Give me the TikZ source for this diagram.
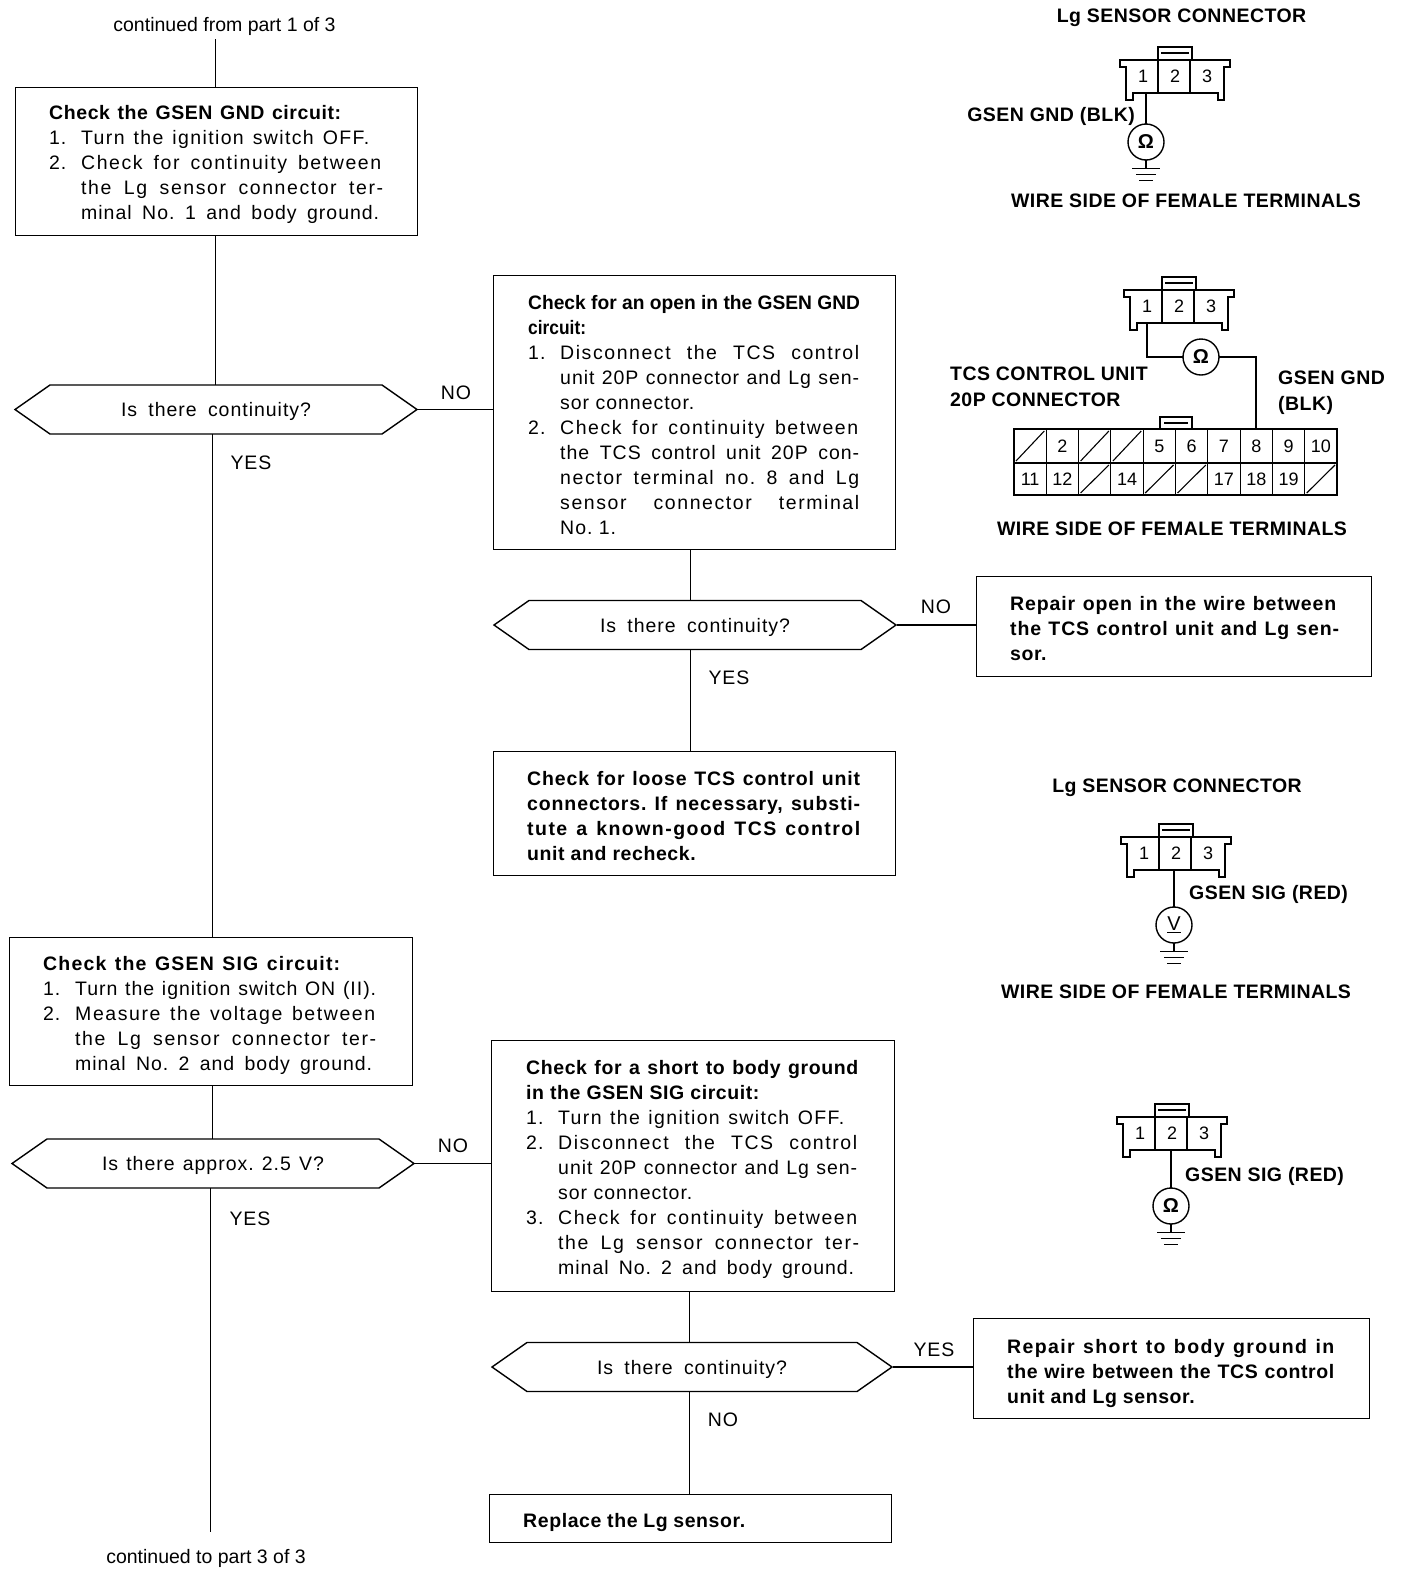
\documentclass[tikz,border=0pt]{standalone}
\usepackage{fontspec}
\setmainfont{Liberation Sans}
\newfontfamily\bodyf[LetterSpace=5]{Liberation Sans}
\newfontfamily\bb[LetterSpace=3]{Liberation Sans}
\newfontfamily\capf[LetterSpace=2.3]{Liberation Sans}
\usetikzlibrary{shapes.symbols,calc}
\AtBeginDocument{\frenchspacing}
\newcommand{\nm}[2]{\makebox[32pt][l]{#1}#2}
\newcommand{\ind}[1]{\hspace*{32pt}#1}
\newcommand{\wl}[2]{\makebox[#1pt][s]{#2}}
\newcommand{\wlx}[3]{{\addfontfeature{LetterSpace=#2}\makebox[#1pt][s]{#3}}}
\newcommand{\hd}[1]{{\bb\bfseries #1}}
\tikzset{
  ln/.style={line width=1.4pt,line cap=rect},
  boxn/.style={draw,line width=1.4pt,rectangle,inner sep=0pt,anchor=north west},
  txt/.style={anchor=west,align=left,inner sep=0pt,font=\bodyf\fontsize{19.5}{25}\selectfont},
  btxt/.style={anchor=west,align=left,inner sep=0pt,font=\bb\bfseries\fontsize{19.5}{25}\selectfont},
  hex/.style={draw,line width=1.4pt,signal,signal to=east and west,signal pointer angle=70,inner sep=0pt,minimum height=49pt,font=\bodyf\fontsize{19.5}{25}\selectfont},
  lab/.style={inner sep=0pt,font=\bodyf\fontsize{19.5}{25}\selectfont},
  plainlab/.style={inner sep=0pt,font=\fontsize{19.5}{25}\selectfont},
  captxt/.style={inner sep=0pt,font=\capf\bfseries\fontsize{19.5}{26}\selectfont,align=left},
  num/.style={inner sep=0pt,font=\fontsize{18}{20}\selectfont},
  meter/.style={draw,circle,line width=1.4pt,minimum size=36pt,inner sep=0pt,font=\bfseries\fontsize{20}{20}\selectfont},
  thinln/.style={line width=1.1pt}
}
\newcommand{\lgconn}[3]{%
  \begin{scope}[shift={(#2,#3)}]
    \draw[ln] (0,13) -- (0,0) -- (34,0) -- (34,13);
    \draw[thinln] (3,6) -- (31,6);
    \draw[ln] (-32,20) -- (-38,20) -- (-38,13) -- (72,13) -- (72,20) -- (66,20) -- (66,53) -- (60,53) -- (60,46) -- (-25,46) -- (-25,53) -- (-32,53) -- cycle;
    \draw[thinln] (0,13) -- (0,46) (32,13) -- (32,46);
    \node[num] (#1a) at (-15,29) {1};
    \node[num] (#1b) at (17,29) {2};
    \node[num] (#1c) at (49,29) {3};
    \coordinate (#1p) at (-13,46);
    \coordinate (#1q) at (17,46);
  \end{scope}}
\newcommand{\gnd}[1]{%
  \draw[ln] (#1.south) -- ++(0,8) coordinate (#1g);
  \draw[ln] ($(#1g)+(-13,0)$) -- ($(#1g)+(13,0)$);
  \draw[ln] ($(#1g)+(-9,6)$) -- ($(#1g)+(9,6)$);
  \draw[ln] ($(#1g)+(-6,12)$) -- ($(#1g)+(6,12)$);}
\begin{document}
\begin{tikzpicture}[x=1pt,y=-1pt]
\useasboundingbox (0,0) rectangle (1408,1572);

% free ends and trunks
\coordinate (top) at (215.5,40);
\coordinate (trunk) at (212.5,0);
\coordinate (bottomend) at (210.5,1531);

\node[plainlab] (ctop) at (224.5,26) {continued from part 1 of 3};
\node[plainlab] (cbot) at (206,1558) {continued to part 3 of 3};

% boxes
\node[boxn,minimum width=402pt,minimum height=148pt] (b1) at (15,87) {};
\node[txt] (b1t) at ([xshift=34pt,yshift=-3pt]b1.west) {\hd{\wl{292}{Check the GSEN GND circuit:}}\\\nm{1.}{\wlx{288}{7}{Turn the ignition switch OFF.}}\\\nm{2.}{\wlx{300}{8}{Check for continuity between}}\\\ind{\wlx{302}{8}{the Lg sensor connector ter-}}\\\ind{\wl{298}{minal No. 1 and body ground.}}};

\node[boxn,minimum width=402pt,minimum height=274pt] (b2) at (493,275) {};
\node[txt] (b2t) at ([xshift=35pt,yshift=-2.5pt]b2.west) {{\rmfamily\bfseries\scalebox{.985}[1]{Check for an open in the GSEN GND}}\\{\rmfamily\bfseries\scalebox{.89}[1]{circuit:}}\\\nm{1.}{\wlx{299}{8}{Disconnect the TCS control}}\\\ind{\wl{299}{unit 20P connector and Lg sen-}}\\\ind{sor connector.}\\\nm{2.}{\wlx{298}{8}{Check for continuity between}}\\\ind{\wl{299}{the TCS control unit 20P con-}}\\\ind{\wlx{299}{8}{nector terminal no. 8 and Lg}}\\\ind{\wlx{299}{8}{sensor connector terminal}}\\\ind{No. 1.}};

\node[boxn,minimum width=395pt,minimum height=100pt] (r1) at (976,576) {};
\node[btxt] (r1t) at ([xshift=34pt,yshift=-2pt]r1.west) {\wlx{326}{4.5}{Repair open in the wire between}\\\wlx{329}{4.5}{the TCS control unit and Lg sen-}\\sor.};

\node[boxn,minimum width=402pt,minimum height=124pt] (b3) at (493,751) {};
\node[btxt] (b3t) at ([xshift=34pt,yshift=-2.5pt]b3.west) {\wlx{333}{4.5}{Check for loose TCS control unit}\\\wlx{333}{4.5}{connectors. If necessary, substi-}\\\wlx{333}{7.5}{tute a known-good TCS control}\\unit and recheck.};

\node[boxn,minimum width=403pt,minimum height=148pt] (b4) at (9,937) {};
\node[txt] (b4t) at ([xshift=34pt,yshift=-4pt]b4.west) {\hd{\wlx{297}{6}{Check the GSEN SIG circuit:}}\\\nm{1.}{\wl{301}{Turn the ignition switch ON (II).}}\\\nm{2.}{\wlx{300}{8}{Measure the voltage between}}\\\ind{\wlx{301}{8}{the Lg sensor connector ter-}}\\\ind{\wl{297}{minal No. 2 and body ground.}}};

\node[boxn,minimum width=403pt,minimum height=251pt] (b5) at (491,1040) {};
\node[txt] (b5t) at ([xshift=35pt,yshift=-3.7pt]b5.west) {\hd{\wl{332}{Check for a short to body ground}}\\\hd{in the GSEN SIG circuit:}\\\nm{1.}{\wlx{286}{7}{Turn the ignition switch OFF.}}\\\nm{2.}{\wlx{299}{8}{Disconnect the TCS control}}\\\ind{\wl{299}{unit 20P connector and Lg sen-}}\\\ind{sor connector.}\\\nm{3.}{\wlx{299}{8}{Check for continuity between}}\\\ind{\wlx{301}{8}{the Lg sensor connector ter-}}\\\ind{\wl{296}{minal No. 2 and body ground.}}};

\node[boxn,minimum width=396pt,minimum height=100pt] (r2) at (973,1318) {};
\node[btxt] (r2t) at ([xshift=34pt,yshift=-5pt]r2.west) {\wlx{327}{7}{Repair short to body ground in}\\\wl{327}{the wire between the TCS control}\\unit and Lg sensor.};

\node[boxn,minimum width=402pt,minimum height=48pt] (b6) at (489,1494) {};
\node[btxt] (b6t) at ([xshift=34pt,yshift=-3.7pt]b6.west) {\wl{222}{Replace the Lg sensor.}};

% decisions
\node[hex,minimum width=402pt] (d1) at (216,409.5) {\raisebox{-7pt}[0pt][0pt]{\wl{190}{Is there continuity?}}};
\node[hex,minimum width=402pt] (d2) at (695,625) {\raisebox{-7pt}[0pt][0pt]{\wl{190}{Is there continuity?}}};
\node[hex,minimum width=402pt] (d3) at (213,1163.5) {\raisebox{-7pt}[0pt][0pt]{\wl{222}{Is there approx. 2.5 V?}}};
\node[hex,minimum width=400pt] (d4) at (692,1367) {\raisebox{-7pt}[0pt][0pt]{\wl{190}{Is there continuity?}}};

% connectors
\draw[ln] (top) -- (top |- b1.north);
\draw[ln] (top |- b1.south) -- (top |- d1.north);
\draw[ln] (trunk |- d1.south) -- (trunk |- b4.north);
\draw[ln] (trunk |- b4.south) -- (trunk |- d3.north);
\draw[ln] (bottomend |- d3.south) -- (bottomend);
\draw[ln] (d1.east) -- (d1.east -| b2.west);
\draw[ln] (d3.east) -- (d3.east -| b5.west);
\coordinate (c2) at (690.5,0);
\coordinate (c5) at (689.5,0);
\draw[ln] (c2 |- b2.south) -- (c2 |- d2.north);
\draw[ln] (c2 |- d2.south) -- (c2 |- b3.north);
\draw[ln] (d2.east) -- (d2.east -| r1.west);
\draw[ln] (c5 |- b5.south) -- (c5 |- d4.north);
\draw[ln] (c5 |- d4.south) -- (c5 |- b6.north);
\draw[ln] (d4.east) -- (d4.east -| r2.west);

% branch labels
\node[lab] (no1) at (456,393) {NO};
\node[lab] (yes1) at (251,463) {YES};
\node[lab] (no2) at (936,607) {NO};
\node[lab] (yes2) at (729,678) {YES};
\node[lab] (no3) at (453,1146) {NO};
\node[lab] (yes3) at (250,1219) {YES};
\node[lab] (yes4) at (934,1350) {YES};
\node[lab] (no4) at (723,1420) {NO};

% connector sketch 1
\node[captxt] (t1) at (1181.5,17.5) {Lg SENSOR CONNECTOR};
\lgconn{k}{1158}{47}
\node[meter] (m1) at (1146,142) {Ω};
\draw[ln] (m1.north |- kp) -- (m1.north);
\gnd{m1}
\node[captxt,anchor=east] (t2) at (1135,116) {GSEN GND (BLK)};
\node[captxt] (t3) at (1186,201) {WIRE SIDE OF FEMALE TERMINALS};

% connector sketch 2
\lgconn{l}{1162}{277}
\node[meter] (m2) at (1201,357) {Ω};
\coordinate (lt) at (1147,357);
\coordinate (pin8) at (1256,429);
\draw[ln] (lt |- lp) -- (lt) -- (m2.west);
\draw[ln] (m2.east) -- (m2.east -| pin8) -- (pin8);
\node[captxt,anchor=west] (t4) at (950,387) {TCS CONTROL UNIT\\20P CONNECTOR};
\node[captxt,anchor=west] (t5) at (1278,393) {GSEN GND\\(BLK)};
\node[captxt] (t6) at (1172,529) {WIRE SIDE OF FEMALE TERMINALS};

% 20P table
\draw[ln] (1160,429) -- (1160,417) -- (1192,417) -- (1192,429);
\draw[thinln] (1164,423) -- (1188,423);
\draw[ln] (1014,429) rectangle (1337,495);
\draw[ln] (1014,463) -- (1337,463);
\foreach \i in {1,...,9}{
  \draw[thinln] ({1014+\i*32.3},429) -- ({1014+\i*32.3},495);
}
\foreach \i/\t in {2/2,5/5,6/6,7/7,8/8,9/9,10/10}{
  \node[num] (u\i) at ({1014+(\i-0.5)*32.3},446) {\t};
}
\foreach \i/\t in {1/11,2/12,4/14,7/17,8/18,9/19}{
  \node[num] (v\i) at ({1014+(\i-0.5)*32.3},479) {\t};
}
\foreach \i in {1,3,4}{
  \draw[thinln] ({1014+(\i-1)*32.3+2},461) -- ({1014+\i*32.3-2},431);
}
\foreach \i in {3,5,6,10}{
  \draw[thinln] ({1014+(\i-1)*32.3+2},493) -- ({1014+\i*32.3-2},465);
}

% connector sketch 3
\node[captxt] (t7) at (1177,788) {Lg SENSOR CONNECTOR};
\lgconn{n}{1159}{824}
\node[meter,font=\fontsize{20}{20}\selectfont] (m3) at (1174,925) {\underline{V}};
\draw[ln] (m3.north |- nq) -- (m3.north);
\gnd{m3}
\node[captxt,anchor=west] (t8) at (1189,894) {GSEN SIG (RED)};
\node[captxt] (t9) at (1176,992) {WIRE SIDE OF FEMALE TERMINALS};

% connector sketch 4
\lgconn{o}{1155}{1104}
\node[meter] (m4) at (1171,1206) {Ω};
\draw[ln] (m4.north |- oq) -- (m4.north);
\gnd{m4}
\node[captxt,anchor=west] (t10) at (1185,1176) {GSEN SIG (RED)};
\end{tikzpicture}
\end{document}
